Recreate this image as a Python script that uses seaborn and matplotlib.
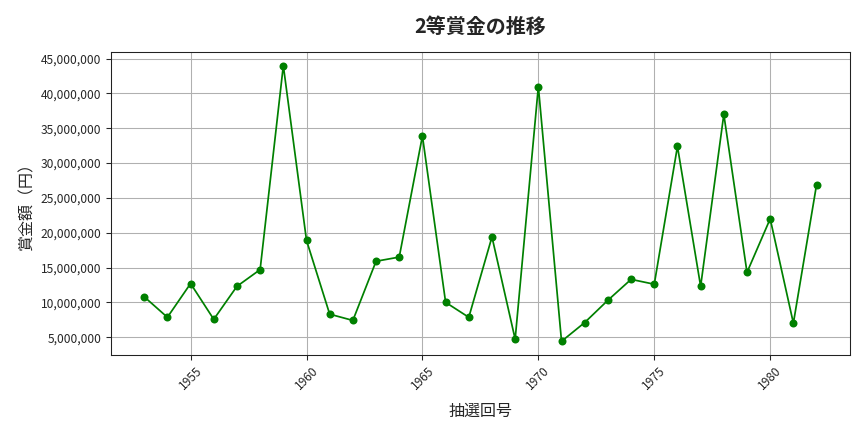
import numpy as np
import matplotlib
matplotlib.use("Agg")
import matplotlib.pyplot as plt
import matplotlib.ticker as mticker
import pandas as pd
import seaborn as sns

# draw numbers and 2nd prize amounts (yen)
draws = list(range(1953, 1983))
prize = [10800000, 7850000, 12700000, 7560000, 12300000, 14700000, 44000000, 18900000,
         8300000, 7400000, 15900000, 16500000, 33900000, 10000000, 7850000, 19400000,
         4700000, 41000000, 4400000, 7100000, 10300000, 13300000, 12600000, 32400000,
         12300000, 37000000, 14300000, 22000000, 7000000, 26900000]

df = pd.DataFrame({'draw': draws, 'prize': prize})

sns.set_style('ticks')
plt.rcParams['font.family'] = ['Noto Sans CJK JP', 'DejaVu Sans']

fig, ax = plt.subplots(figsize=(9, 4.5), dpi=96)
sns.lineplot(data=df, x='draw', y='prize', marker='o', color='green',
             markersize=6, markeredgewidth=0, linewidth=1.3, ax=ax)

ax.set_title('2等賞金の推移', fontsize=15, fontweight='bold', pad=14)
ax.set_xlabel('抽選回号', fontsize=12, labelpad=8)
ax.set_ylabel('賞金額（円）', fontsize=12)
ax.yaxis.set_major_formatter(mticker.FuncFormatter(lambda v, p: f'{int(v):,}'))
ax.set_yticks(range(5000000, 45000001, 5000000))
ax.tick_params(axis='x', rotation=45, labelsize=9)
ax.tick_params(axis='y', labelsize=9)
ax.grid(True, color='#b0b0b0', linewidth=0.8)
for s in ax.spines.values():
    s.set_color('#222222')

plt.subplots_adjust(left=0.128, right=0.984, bottom=0.178, top=0.88)
plt.savefig('out.png')
